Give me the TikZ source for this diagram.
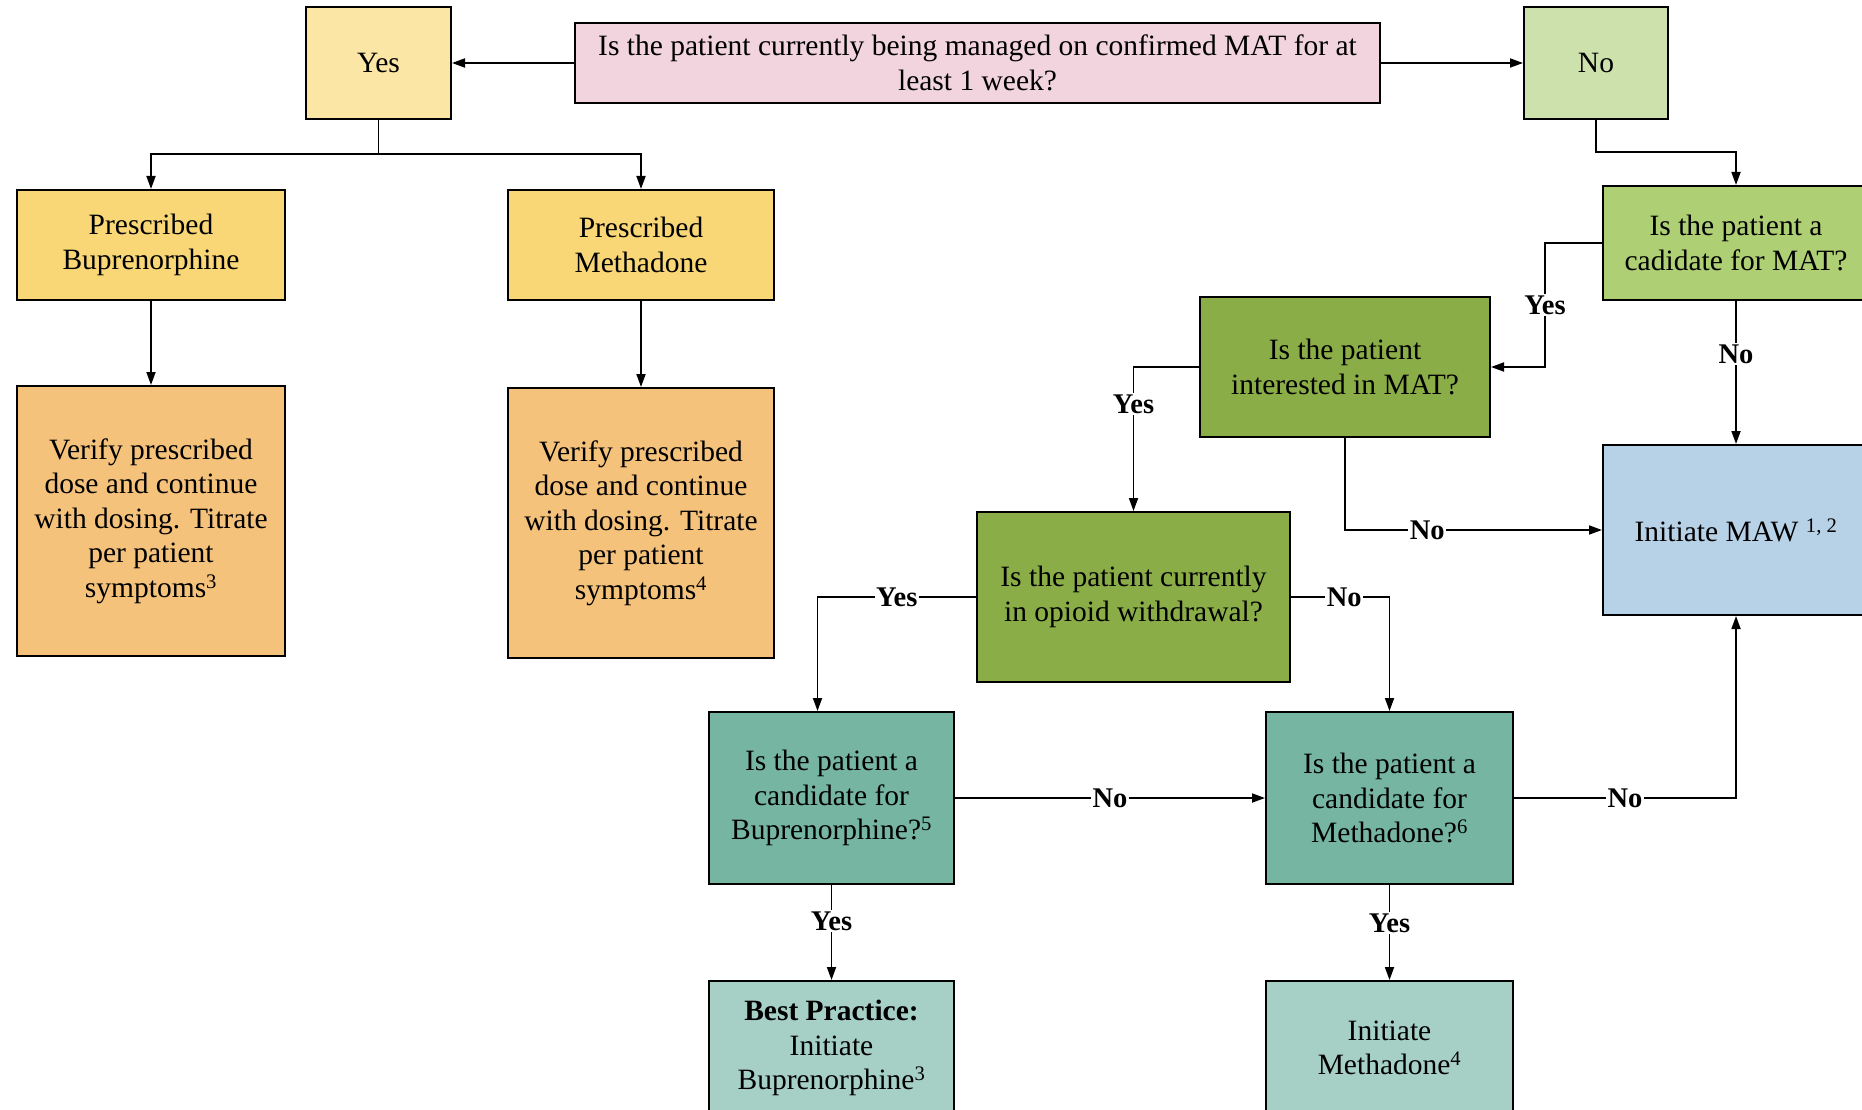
\documentclass[tikz,border=0pt]{standalone}
\usepackage{fontspec}
\setmainfont{Liberation Serif}
\usetikzlibrary{arrows.meta}

\definecolor{qpink}{HTML}{F1D4DD}
\definecolor{yeslight}{HTML}{FCE6A5}
\definecolor{nolight}{HTML}{CDE1AC}
\definecolor{presc}{HTML}{F9D776}
\definecolor{verify}{HTML}{F5C27B}
\definecolor{candmatgreen}{HTML}{AECF74}
\definecolor{darkgreen}{HTML}{8AAD48}
\definecolor{mawblue}{HTML}{B7D1E7}
\definecolor{teal}{HTML}{75B5A2}
\definecolor{lightteal}{HTML}{A6D0C6}

\begin{document}
\begin{tikzpicture}[x=1pt,y=-1pt,
  box/.style={draw, line width=2pt, align=center, inner sep=0pt, font=\fontsize{29.5}{34.5}\selectfont},
  arr/.style={line width=1.8pt, -{Triangle[length=13pt,width=9pt]}},
  lbl/.style={fill=white, inner sep=1.5pt, font=\fontsize{28.5}{34}\selectfont\bfseries}]
\useasboundingbox (0,0) rectangle (1862,1110);

\node[box, fill=qpink, minimum width=805pt, minimum height=80pt] (q0) at (977.5,63) {Is the patient currently being managed on confirmed MAT for at\\least 1 week?};
\node[box, fill=yeslight, minimum width=145pt, minimum height=112pt] (yes0) at (378.5,63) {Yes};
\node[box, fill=nolight, minimum width=144pt, minimum height=112pt] (no0) at (1596,63) {No};

\node[box, fill=presc, minimum width=268pt, minimum height=110pt] (presbup) at (151,245) {Prescribed\\Buprenorphine};
\node[box, fill=presc, minimum width=266pt, minimum height=110pt] (presmeth) at (641,245) {Prescribed\\Methadone};
\node[box, fill=verify, minimum width=268pt, minimum height=270pt] (verbup) at (151,521) {Verify prescribed\\dose and continue\\with dosing. Titrate\\per patient\\symptoms\textsuperscript{3}};
\node[box, fill=verify, minimum width=266pt, minimum height=270pt] (vermeth) at (641,523) {Verify prescribed\\dose and continue\\with dosing. Titrate\\per patient\\symptoms\textsuperscript{4}};

\node[box, fill=candmatgreen, minimum width=266pt, minimum height=114pt] (candmat) at (1736,243) {Is the patient a\\cadidate for MAT?};
\node[box, fill=darkgreen, minimum width=290pt, minimum height=140pt] (interest) at (1345,367) {Is the patient\\interested in MAT?};
\node[box, fill=mawblue, minimum width=266pt, minimum height=170pt] (maw) at (1736,530) {Initiate MAW \textsuperscript{1, 2}};
\node[box, fill=darkgreen, minimum width=313pt, minimum height=170pt] (withdraw) at (1133.5,597) {Is the patient currently\\in opioid withdrawal?};

\node[box, fill=teal, minimum width=245pt, minimum height=172pt] (candbup) at (831.5,798) {Is the patient a\\candidate for\\Buprenorphine?\textsuperscript{5}};
\node[box, fill=teal, minimum width=247pt, minimum height=172pt] (candmeth) at (1389.5,798) {Is the patient a\\candidate for\\Methadone?\textsuperscript{6}};
\node[box, fill=lightteal, minimum width=245pt, minimum height=134pt] (bestbup) at (831.5,1048) {\textbf{Best Practice:}\\Initiate\\Buprenorphine\textsuperscript{3}};
\node[box, fill=lightteal, minimum width=247pt, minimum height=134pt] (initmeth) at (1389.5,1048) {Initiate\\Methadone\textsuperscript{4}};

\draw[arr] (q0.west) -- (yes0.east);
\draw[arr] (q0.east) -- (no0.west);
\draw[arr] (yes0.south) -- ++(0,34) -| (presbup.north);
\draw[arr] (yes0.south) -- ++(0,34) -| (presmeth.north);
\draw[arr] (presbup.south) -- (verbup.north);
\draw[arr] (presmeth.south) -- (vermeth.north);
\draw[arr] (no0.south) -- ++(0,32) -| (candmat.north);

\draw[arr] (candmat.west) -- ++(-57,0) |- node[lbl, pos=0.25] {Yes} (interest.east);
\draw[arr] (candmat.south) -- node[lbl, pos=0.37] {No} (maw.north);
\draw[arr] (interest.west) -| node[lbl, pos=0.63] {Yes} (withdraw.north);
\draw[arr] (interest.south) |- node[lbl, pos=0.66] {No} (maw.west);
\draw[arr] (withdraw.west) -| node[lbl, pos=0.25] {Yes} ([xshift=-14pt]candbup.north);
\draw[arr] (withdraw.east) -| node[lbl, pos=0.27] {No} (candmeth.north);
\draw[arr] (candbup.east) -- node[lbl] {No} (candmeth.west);
\draw[arr] (candmeth.east) -| node[lbl, pos=0.25] {No} (maw.south);
\draw[arr] (candbup.south) -- node[lbl, pos=0.38] {Yes} (bestbup.north);
\draw[arr] (candmeth.south) -- node[lbl, pos=0.4] {Yes} (initmeth.north);
\end{tikzpicture}
\end{document}
